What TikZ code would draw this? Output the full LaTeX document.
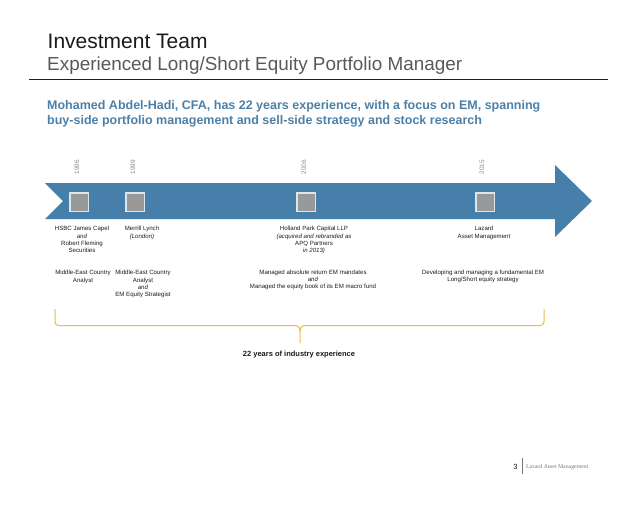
\documentclass[tikz,border=0pt]{standalone}
\usepackage{fontspec}
\setmainfont{Liberation Sans}
\newfontfamily\footserif{Liberation Serif}
\definecolor{titlec}{RGB}{26,26,26}
\definecolor{subc}{RGB}{89,89,89}
\definecolor{rulec}{RGB}{30,30,30}
\definecolor{leadc}{RGB}{76,128,168}
\definecolor{bandc}{RGB}{70,127,170}
\definecolor{sqfill}{RGB}{153,153,153}
\definecolor{sqborder}{RGB}{220,230,238}
\definecolor{yearc}{RGB}{140,140,140}
\definecolor{bracec}{RGB}{232,190,72}
\definecolor{footc}{RGB}{120,120,120}
\tikzset{
  sqbox/.style={draw=sqborder, fill=sqfill, line width=1.5pt, minimum size=18.5pt, inner sep=0pt},
  yearlbl/.style={rotate=90, text=yearc, font=\fontsize{6.5}{7}\selectfont, inner sep=0pt},
  lbl/.style={anchor=north, align=center, inner sep=0pt, text=titlec, font=\fontsize{6.1}{7.4}\selectfont},
}
\begin{document}
\begin{tikzpicture}[x=1pt,y=-1pt]
\useasboundingbox (0,0) rectangle (638,506);
% header
\node[anchor=base west, inner sep=0pt, text=titlec, font=\fontsize{21}{25}\selectfont] (title) at (47.5,48) {Investment Team};
\node[anchor=base west, inner sep=0pt, text=subc, font=\fontsize{18.9}{22}\selectfont] (subtitle) at (47,70) {Experienced Long/Short Equity Portfolio Manager};
\coordinate (ruleL) at (29,79);
\coordinate (ruleR) at (608,79);
\draw[rulec, line width=0.9pt] (ruleL) -- (ruleR);
\node[anchor=north west, align=left, inner sep=0pt, text=leadc, font=\bfseries\fontsize{12.5}{15}\selectfont] (lead) at (47,100) {Mohamed Abdel-Hadi, CFA, has 22 years experience, with a focus on EM, spanning\\buy-side portfolio management and sell-side strategy and stock research};
% timeline band
\fill[bandc] (45,183) -- (555,183) -- (555,165) -- (592,201) -- (555,237) -- (555,219) -- (45,219) -- (63,201) -- cycle;
% years
\node[yearlbl] (y1) at (77,167) {1996};
\node[yearlbl] (y2) at (133,167) {1999};
\node[yearlbl] (y3) at (304,167) {2006};
\node[yearlbl] (y4) at (482,167) {2015};
% squares
\node[sqbox] (s1) at (79,202) {};
\node[sqbox] (s2) at (135,202) {};
\node[sqbox] (s3) at (306,202) {};
\node[sqbox] (s4) at (485,202) {};
% employers
\node[lbl] (e1) at (82,226) {HSBC James Capel\\\textit{and}\\Robert Fleming\\Securities};
\node[lbl] (e2) at (142,226) {Merrill Lynch\\\textit{(London)}};
\node[lbl] (e3) at (314,226) {Holland Park Capital LLP\\\textit{(acquired and rebranded as}\\APQ Partners\\\textit{in 2013)}};
\node[lbl] (e4) at (484,226) {Lazard\\Asset Management};
% roles
\node[lbl] (r1) at (83,270) {Middle-East Country\\Analyst};
\node[lbl] (r2) at (143,270) {Middle-East Country\\Analyst\\\textit{and}\\EM Equity Strategist};
\node[lbl] (r3) at (313,269.5) {Managed absolute return EM mandates\\\textit{and}\\Managed the equity book of its EM macro fund};
\node[lbl] (r4) at (483,269.5) {Developing and managing a fundamental EM\\Long/Short equity strategy};
% brace
\draw[bracec, line width=1pt, line join=round]
  (55,309) -- (55,321.5) .. controls (55,324.5) and (56.5,325.5) .. (59,325.5) -- (295,325.5)
  .. controls (298.5,325.5) and (300,327.5) .. (300,332) -- (300,343);
\draw[bracec, line width=1pt, line join=round]
  (300,332) .. controls (300,327.5) and (301.5,325.5) .. (305,325.5) -- (540,325.5)
  .. controls (542.5,325.5) and (544,324.5) .. (544,321.5) -- (544,309);
\node[inner sep=0pt, text=titlec, font=\bfseries\fontsize{7.5}{9}\selectfont] (span) at (299,355) {22 years of industry experience};
% footer
\node[anchor=base, inner sep=0pt, text=titlec, font=\fontsize{7.5}{9}\selectfont] (pageno) at (515.5,469) {3};
\coordinate (barT) at (522,458);
\coordinate (barB) at (522,474);
\draw[footc, line width=0.6pt] (barT) -- (barB);
\node[anchor=base west, inner sep=0pt, text=footc, font=\footserif\fontsize{5.8}{7}\selectfont] (firm) at (526,468) {Lazard Asset Management};
\end{tikzpicture}
\end{document}
